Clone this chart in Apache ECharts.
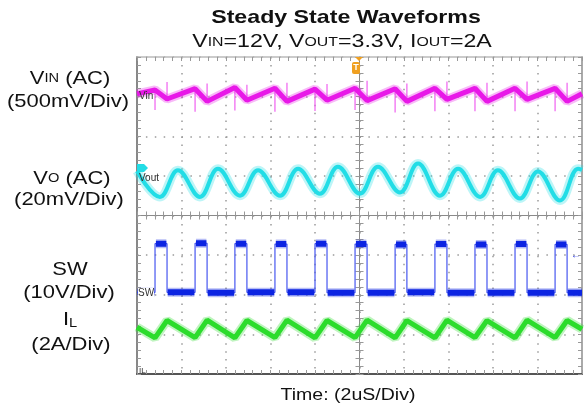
<!DOCTYPE html>
<html>
<head>
<meta charset="utf-8">
<script src="https://cdn.jsdelivr.net/npm/echarts@6/dist/echarts.min.js"></script>
<style>
html,body{margin:0;padding:0;background:#fff;}
#main{width:584px;height:416px;}
</style>
</head>
<body>
<div id="main"></div>
<script>
// scope capture: time in us (2us/div, 10 div), amplitude in screen divisions (8 div)
var swRise = [0.81, 2.61, 4.40, 6.20, 8.00, 9.80, 11.60, 13.39, 15.19, 16.99, 18.79];
var swFall = [1.35, 3.15, 4.94, 6.74, 8.54, 10.34, 12.13, 13.93, 15.73, 17.53, 19.33];
var swHigh = [3.29, 3.30, 3.29, 3.28, 3.29, 3.28, 3.27, 3.28, 3.27, 3.28, 3.27];
var swLow = [2.06, 2.06, 2.05, 2.06, 2.06, 2.05, 2.05, 2.06, 2.05, 2.05, 2.05, 2.05];

var vinTrace = [
  [0, 7.07], [0.81, 7.17], [1.35, 6.94], [2.61, 7.20], [3.15, 6.88], [4.40, 7.23], [4.94, 6.91],
  [6.20, 7.21], [6.74, 6.88], [8.00, 7.19], [8.54, 6.91], [9.80, 7.21], [10.34, 6.90],
  [11.60, 7.20], [12.13, 6.88], [13.39, 7.21], [13.93, 6.93], [15.19, 7.21], [15.73, 6.88],
  [16.99, 7.21], [17.53, 6.93], [18.79, 7.21], [19.33, 6.88], [20, 7.07]
];
// switching spikes on Vin: tip level at each edge
var vinSpikes = [
  [0.81, 6.66], [1.35, 7.37], [2.61, 6.62], [3.15, 7.33], [4.40, 6.65], [4.94, 7.30],
  [6.20, 6.62], [6.74, 7.35], [8.00, 6.64], [8.54, 7.32], [9.80, 6.66], [10.34, 7.40],
  [11.60, 6.60], [12.13, 7.33], [13.39, 6.63], [13.93, 7.38], [15.19, 6.63], [15.73, 7.35],
  [16.99, 6.63], [17.53, 7.38], [18.79, 6.63], [19.33, 7.35]
];

var voutTrace = [
  [0, 5.12], [1.03, 4.47], [1.84, 5.14], [2.83, 4.47], [3.64, 5.18], [4.63, 4.50], [5.44, 5.14],
  [6.43, 4.50], [7.24, 5.18], [8.22, 4.55], [9.03, 5.23], [10.02, 4.55], [10.83, 5.23],
  [11.82, 4.58], [12.63, 5.31], [13.62, 4.50], [14.43, 5.18], [15.42, 4.47], [16.22, 5.14],
  [17.21, 4.43], [18.02, 5.11], [19.01, 4.38], [19.82, 5.18], [20, 5.15]
];

var ilTrace = [
  [0, 1.18], [0.81, 0.91], [1.35, 1.35], [2.61, 0.92], [3.15, 1.36], [4.40, 0.91], [4.94, 1.35],
  [6.20, 0.92], [6.74, 1.36], [8.00, 0.91], [8.54, 1.35], [9.80, 0.92], [10.34, 1.36],
  [11.60, 0.91], [12.13, 1.35], [13.39, 0.91], [13.93, 1.36], [15.19, 0.92], [15.73, 1.35],
  [16.99, 0.91], [17.53, 1.36], [18.79, 0.92], [19.33, 1.35], [20, 1.13]
];

// build the SW path and its noisy plateaus from the edge times
var swPath = [[0, swLow[0]]];
var swBands = [];
var prev = 0;
for (var i = 0; i < swRise.length; i++) {
  swPath.push([swRise[i], swLow[i]], [swRise[i], swHigh[i]], [swFall[i], swHigh[i]], [swFall[i], swLow[i + 1]]);
  swBands.push([prev + 0.03, swLow[i]], [swRise[i] - 0.03, swLow[i]], [swRise[i], '-']);
  swBands.push([swRise[i] + 0.04, swHigh[i]], [swFall[i] - 0.03, swHigh[i]], [swFall[i], '-']);
  prev = swFall[i];
}
swPath.push([20, swLow[swLow.length - 1]]);
swBands.push([prev + 0.03, swLow[swLow.length - 1]], [20, swLow[swLow.length - 1]]);

// spikes start from the trace level at the same instant
var spikeData = [];
vinSpikes.forEach(function (s) {
  var base = vinTrace.filter(function (p) { return p[0] === s[0]; })[0][1];
  spikeData.push([s[0], base], [s[0], s[1]], [s[0], '-']);
});

var FONT = '"Liberation Sans", Arial, sans-serif';
var SX = 1.22; // the capture is stretched sideways
var minor = {show: true, splitNumber: 5, length: 4, lineStyle: {color: '#999', width: 1}};

function xAx(pos, line, inside, offset, split) {
  return {
    type: 'value', min: 0, max: 20, interval: 2, position: pos, offset: offset || 0,
    axisLine: {show: true, onZero: false, lineStyle: line},
    axisTick: {show: true, inside: inside, length: 4, lineStyle: {color: '#999'}},
    minorTick: minor,
    axisLabel: {show: false},
    splitLine: split ? {show: true, lineStyle: {color: '#9a9a9a', width: 1.5, type: [1.5, 6.45]}} : {show: false}
  };
}
function yAx(pos, line, inside, offset, split) {
  return {
    type: 'value', min: 0, max: 8, interval: 1, position: pos, offset: offset || 0,
    axisLine: {show: true, onZero: false, lineStyle: line},
    axisTick: {show: true, inside: inside, length: 4, lineStyle: {color: '#999'}},
    minorTick: minor,
    axisLabel: {show: false},
    splitLine: split ? {show: true, lineStyle: {color: '#9a9a9a', width: 1.5, type: [1.5, 7.4]}} : {show: false}
  };
}
function label(x, y, text, size, rich) {
  var st = {text: text, font: size + 'px ' + FONT, fill: '#111', textAlign: 'center', textVerticalAlign: 'middle'};
  if (rich) st.rich = rich;
  return {type: 'text', x: x, y: y, scaleX: SX, z: 10, style: st};
}
function sub(big, small) {
  return {b: {font: big + 'px ' + FONT, fill: '#111'}, s: {font: small + 'px ' + FONT, fill: '#111'}};
}

var myChart = echarts.init(document.getElementById('main'));
var option = {
  animation: false,
  backgroundColor: '#fff',
  grid: {left: 137, top: 57, right: 2, bottom: 42},
  xAxis: [
    xAx('bottom', {color: '#555', width: 2}, true, 0, true),
    xAx('top', {color: '#bbb', width: 1.5}, true, 0, false),
    xAx('bottom', {color: '#8a8a8a', width: 1}, true, -158.5, false),
    xAx('bottom', {color: '#8a8a8a', width: 1}, false, -158.5, false)
  ],
  yAxis: [
    yAx('left', {color: '#888', width: 2}, true, 0, true),
    yAx('right', {color: '#aaa', width: 2}, true, 0, false),
    yAx('left', {color: '#8a8a8a', width: 1}, true, -222.5, false),
    yAx('left', {color: '#8a8a8a', width: 1}, false, -222.5, false)
  ],
  series: [
    {
      name: 'Vin spikes', type: 'line', data: spikeData, showSymbol: false, z: 3,
      lineStyle: {color: '#f060f0', width: 1.2}
    },
    {
      name: 'Vin halo', type: 'line', data: vinTrace, showSymbol: false, z: 3,
      lineStyle: {color: '#e818e8', width: 9, opacity: 0.3}
    },
    {
      name: 'Vin', type: 'line', data: vinTrace, showSymbol: false, z: 4,
      lineStyle: {color: '#e818e8', width: 5}
    },
    {
      name: 'Vout halo', type: 'line', data: voutTrace, showSymbol: false, smooth: 0.4, z: 3,
      lineStyle: {color: '#22dde6', width: 9, opacity: 0.3}
    },
    {
      name: 'Vout', type: 'line', data: voutTrace, showSymbol: false, smooth: 0.4, z: 4,
      lineStyle: {color: '#22dde6', width: 4}
    },
    {
      name: 'SW', type: 'line', data: swPath, showSymbol: false, z: 3,
      lineStyle: {color: '#4656f0', width: 1.2}
    },
    {
      name: 'SW band', type: 'line', data: swBands, showSymbol: false, z: 4,
      lineStyle: {color: '#0c24e2', width: 6}
    },
    {
      name: 'SW halo', type: 'line', data: swBands, showSymbol: false, z: 3,
      lineStyle: {color: '#0c24e2', width: 9, opacity: 0.3}
    },
    {
      name: 'IL halo', type: 'line', data: ilTrace, showSymbol: false, z: 3,
      lineStyle: {color: '#2cdc2c', width: 9, opacity: 0.3}
    },
    {
      name: 'IL', type: 'line', data: ilTrace, showSymbol: false, z: 4,
      lineStyle: {color: '#2cdc2c', width: 5}
    }
  ],
  graphic: [
    {type: 'text', x: 346, y: 18, scaleX: SX, z: 10, style: {text: 'Steady State Waveforms', font: 'bold 19px ' + FONT, fill: '#111', textAlign: 'center', textVerticalAlign: 'middle'}},
    label(342, 42, '{b|V}{s|IN}{b|=12V, V}{s|OUT}{b|=3.3V, I}{s|OUT}{b|=2A}', 19, sub(19, 13)),
    label(70, 79, '{b|V}{s|IN}{b| (AC)}', 18, sub(18, 12)),
    label(68, 102, '(500mV/Div)', 18),
    label(72, 179, '{b|V}{s|O}{b| (AC)}', 18, sub(18, 12)),
    label(69, 200, '(20mV/Div)', 18),
    label(70, 270, 'SW', 18),
    label(69, 293, '(10V/Div)', 18),
    label(70, 320, '{b|I}{s|L}', 18, {b: {font: '18px ' + FONT, fill: '#111'}, s: {font: '12px ' + FONT, fill: '#111', padding: [8, 0, 0, 0]}}),
    label(71, 345, '(2A/Div)', 18),
    label(348, 396, 'Time: (2uS/Div)', 16),
    // in-screen channel tags
    {type: 'text', x: 139, y: 96, z: 10, style: {text: 'Vin', font: '10px ' + FONT, fill: '#333', textVerticalAlign: 'middle'}},
    {type: 'text', x: 139, y: 178, z: 10, style: {text: 'Vout', font: '10px ' + FONT, fill: '#333', textVerticalAlign: 'middle'}},
    {type: 'text', x: 138, y: 293, z: 10, style: {text: 'SW', font: '10px ' + FONT, fill: '#333', textVerticalAlign: 'middle', backgroundColor: '#fff'}},
    {type: 'text', x: 139, y: 371, z: 10, style: {text: 'IL', font: '8px ' + FONT, fill: '#333', textVerticalAlign: 'middle'}},
    // trigger marker
    {type: 'polygon', z: 10, shape: {points: [[355, 57], [363, 57], [359, 61]]}, style: {fill: '#f0a020'}},
    {type: 'rect', z: 10, shape: {x: 352, y: 62, width: 8, height: 12, r: 2}, style: {fill: '#f0a020'}},
    {type: 'text', x: 356, y: 68, z: 11, style: {text: 'T', font: 'bold 9px ' + FONT, fill: '#fff', textAlign: 'center', textVerticalAlign: 'middle'}},
    // channel markers
    {type: 'polygon', z: 10, shape: {points: [[137, 164], [144, 164], [148, 168], [144, 172], [137, 172]]}, style: {fill: '#22dde6'}},
    {type: 'text', x: 581, y: 255, z: 10, style: {text: '←', font: '10px ' + FONT, fill: '#2030e0', textAlign: 'right', textVerticalAlign: 'middle'}}
  ]
};
myChart.setOption(option);
</script>
</body>
</html>
